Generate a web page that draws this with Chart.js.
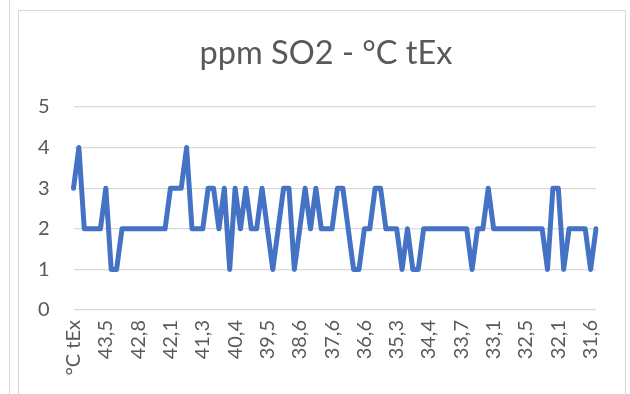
<!DOCTYPE html>
<html>
<head>
<meta charset="utf-8">
<script src="https://cdn.jsdelivr.net/npm/chart.js@4/dist/chart.umd.min.js"></script>
<style>
  html, body { margin: 0; padding: 0; background: #ffffff; }
  body { width: 630px; height: 394px; position: relative; overflow: hidden; }
  .side-rule { position: absolute; left: 9px; top: 0; width: 0; height: 394px; border-left: 1.5px solid #d9d9d9; }
  .frame { position: absolute; left: 18px; top: 10px; width: 608px; height: 400px; border: 1.5px solid #d9d9d9; box-sizing: border-box; }
  canvas { position: absolute; left: 0; top: 0; }
</style>
</head>
<body>
<div class="side-rule"></div>
<div class="frame"></div>
<canvas id="chart" width="630" height="394"></canvas>
<script>
// Axis labels shown under every sixth reading
const tickLabels = ['°C tEx', '43,5', '42,8', '42,1', '41,3', '40,4', '39,5', '38,6',
  '37,6', '36,6', '35,3', '34,4', '33,7', '33,1', '32,5', '32,1', '31,6'];
const labelEvery = 6;

// ppm SO2 readings
const so2 = [
  3, 4, 2, 2, 2, 2, 3, 1, 1, 2,
  2, 2, 2, 2, 2, 2, 2, 2, 3, 3,
  3, 4, 2, 2, 2, 3, 3, 2, 3, 1,
  3, 2, 3, 2, 2, 3, 2, 1, 2, 3,
  3, 1, 2, 3, 2, 3, 2, 2, 2, 3,
  3, 2, 1, 1, 2, 2, 3, 3, 2, 2,
  2, 1, 2, 1, 1, 2, 2, 2, 2, 2,
  2, 2, 2, 2, 1, 2, 2, 3, 2, 2,
  2, 2, 2, 2, 2, 2, 2, 2, 1, 3,
  3, 1, 2, 2, 2, 2, 1, 2
];

const categories = so2.map((_, i) => (i % labelEvery === 0 ? tickLabels[i / labelEvery] : ''));

const textColor = '#595959';
const fontFamily = 'Lato, "Open Sans", sans-serif';

new Chart(document.getElementById('chart'), {
  type: 'line',
  data: {
    labels: categories,
    datasets: [{
      label: 'ppm SO2',
      data: so2,
      borderColor: '#4472C4',
      borderWidth: 5,
      borderJoinStyle: 'round',
      borderCapStyle: 'round',
      pointRadius: 0,
      tension: 0,
      fill: false
    }]
  },
  options: {
    responsive: false,
    animation: false,
    layout: { padding: { left: 22, right: 0, top: 0, bottom: 0 } },
    plugins: {
      legend: { display: false },
      tooltip: { enabled: false },
      title: {
        display: true,
        text: 'ppm SO2 - °C tEx',
        color: textColor,
        font: { family: fontFamily, size: 32.5, weight: 'normal', lineHeight: 1.2 },
        padding: { top: 34, bottom: 34 }
      }
    },
    scales: {
      x: {
        offset: false,
        grid: { display: false, drawTicks: false },
        border: { display: false },
        ticks: {
          autoSkip: false,
          minRotation: 90,
          maxRotation: 90,
          padding: 10,
          color: textColor,
          font: { family: fontFamily, size: 20 }
        },
        afterFit(scale) { scale.height = 84; }
      },
      y: {
        min: 0,
        max: 5,
        grid: { color: '#d9d9d9', lineWidth: 1.3, drawTicks: false },
        border: { display: false },
        ticks: {
          stepSize: 1,
          padding: 24,
          color: textColor,
          font: { family: fontFamily, size: 20 }
        },
        afterFit(scale) { scale.width = 51.5; }
      },
      // empty strip on the right that keeps the plot clear of the frame edge
      margin: {
        type: 'linear',
        position: 'right',
        grid: { display: false, drawTicks: false },
        border: { display: false },
        ticks: { display: false },
        afterFit(scale) { scale.width = 32; }
      }
    }
  }
});
</script>
</body>
</html>
